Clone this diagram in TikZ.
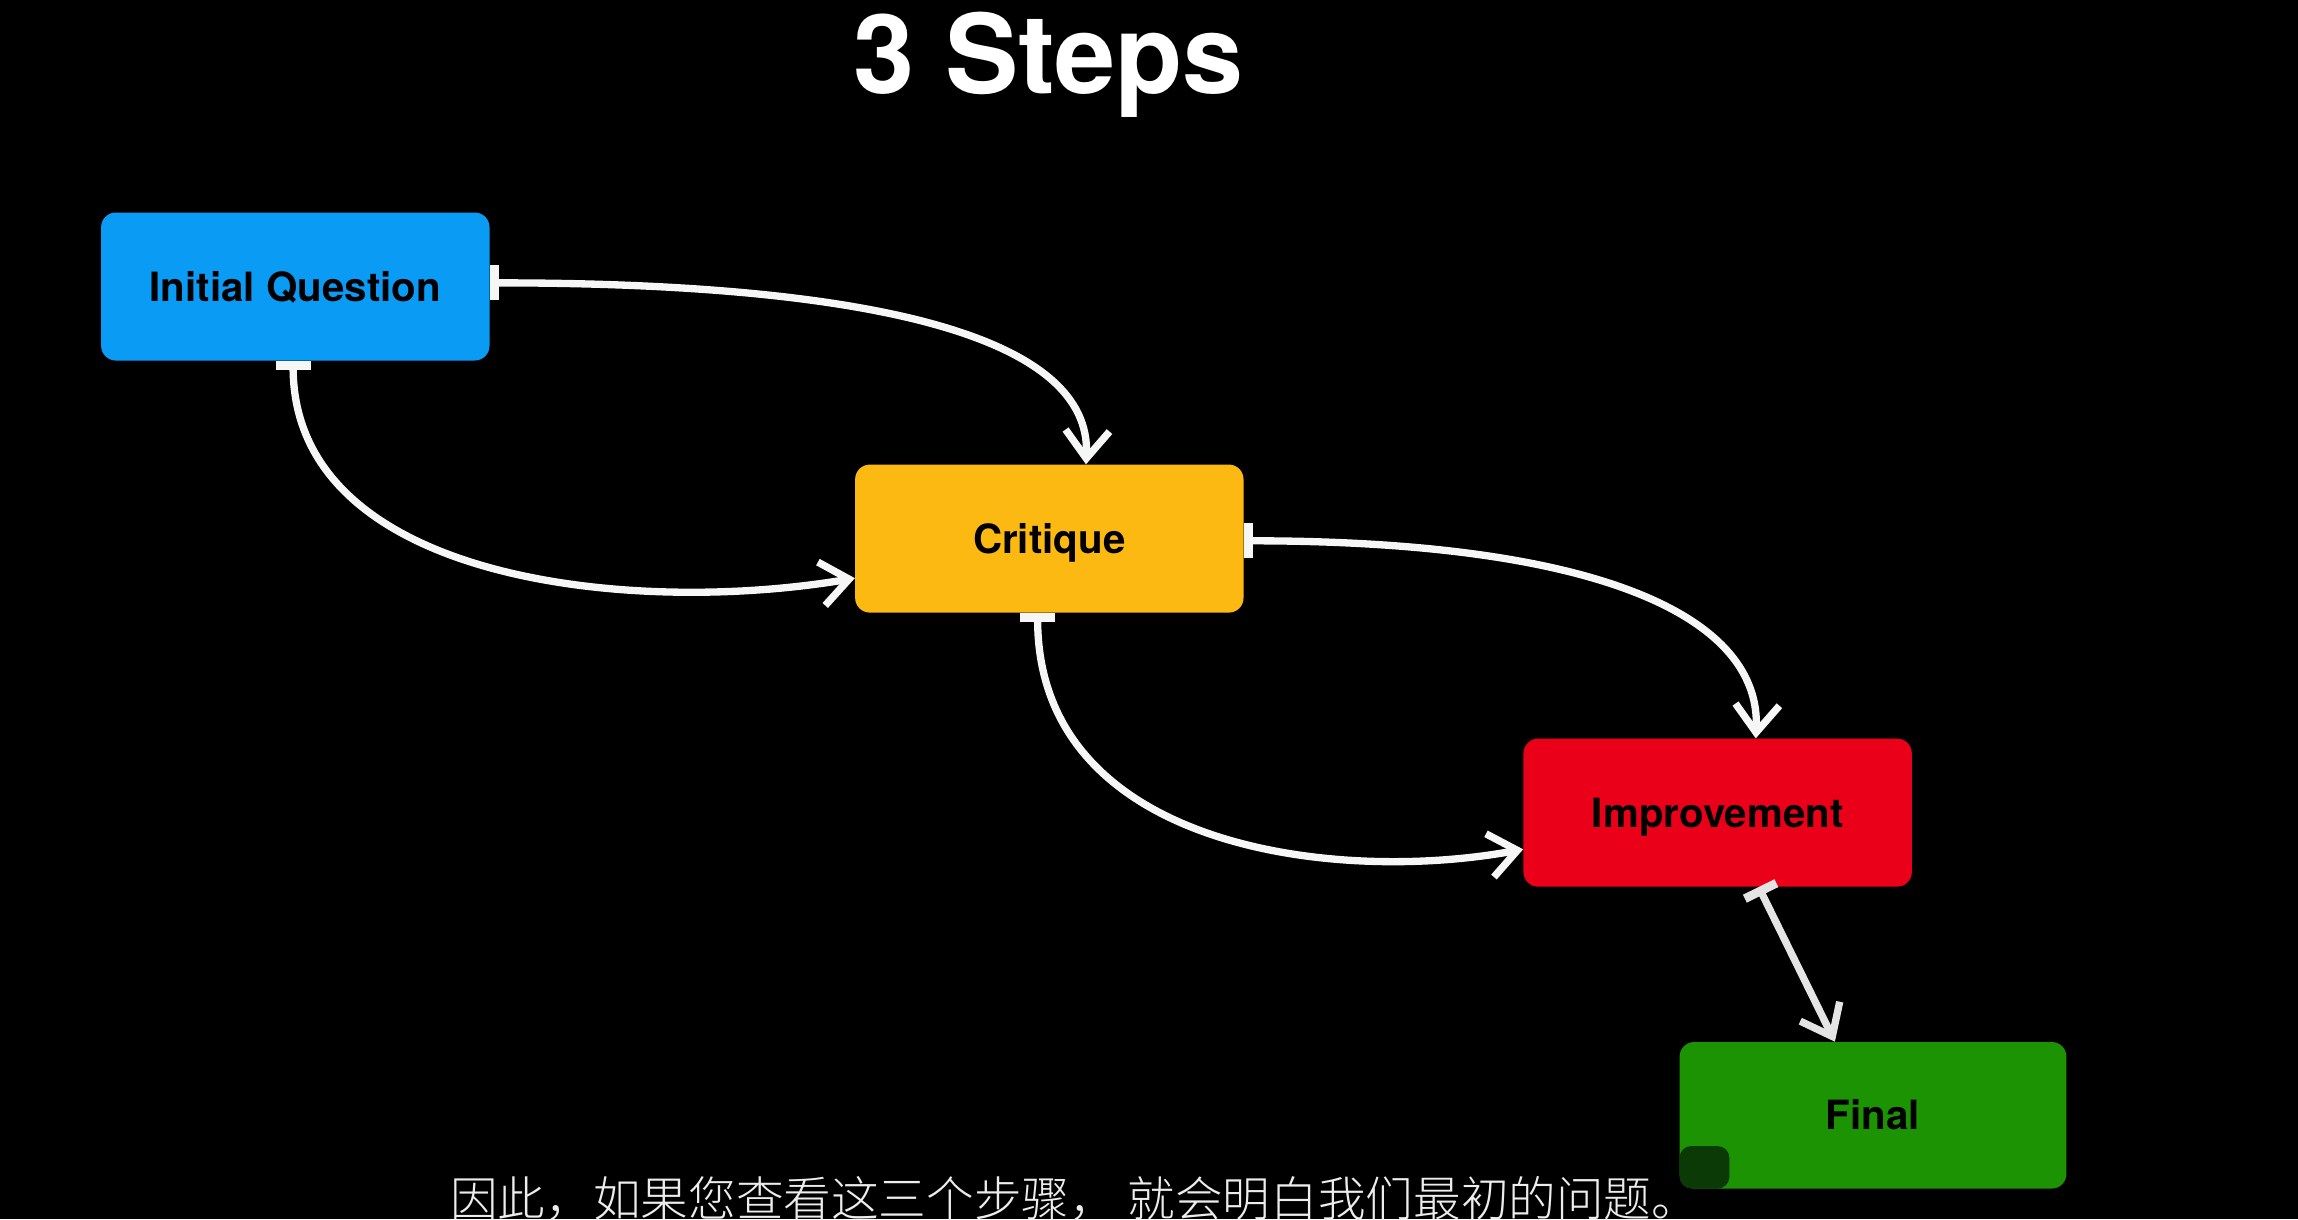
\documentclass[tikz,border=0pt]{standalone}
\usepackage{fontspec}
\setmainfont{TeX Gyre Heros}
\newfontfamily\cjkfont{Noto Sans CJK SC}[UprightFont={* Light}]
\usetikzlibrary{arrows.meta}
\definecolor{qblue}{HTML}{0A9BF5}
\definecolor{camber}{HTML}{FCB912}
\definecolor{ired}{HTML}{EA0019}
\definecolor{fgreen}{HTML}{1C9302}
\definecolor{patchgreen}{HTML}{0B3A07}
\definecolor{subgray}{HTML}{EDEDED}
\definecolor{linewhite}{HTML}{F6F6F6}
\definecolor{linegray}{HTML}{E4E4E4}
\begin{document}
\begin{tikzpicture}[x=1pt,y=-1pt,
  stepbox/.style={rounded corners=10pt, inner sep=0pt, minimum width=265pt,
    minimum height=101pt, text height=20pt, text depth=0pt,
    font=\fontsize{27.5}{30}\selectfont\bfseries, text=black},
  flow/.style={draw=linewhite, line width=5pt,
    {Rectangle[length=6pt,width=24pt]}-{Straight Barb[length=19pt,width=30pt]}}]
\fill[black] (0,0) rectangle (1568,832);
\useasboundingbox (0,0) rectangle (1568,832);

\node[anchor=base, text=white, inner sep=0pt, font=\fontsize{75}{80}\selectfont\bfseries] (title) at (715.5,64) {3 Steps};

\node[stepbox, fill=qblue] (iq) at (201.5,195.5) {Initial Question};
\node[stepbox, fill=camber] (cr) at (716,367.5) {Critique};
\node[stepbox, fill=ired] (im) at (1172,554.5) {Improvement};
\node[stepbox, fill=fgreen, minimum width=264pt, minimum height=100pt] (fi) at (1278,761) {Final};
\fill[patchgreen, rounded corners=8pt] (1146,782) rectangle (1180,811);

\draw[flow] ([yshift=2.5pt]iq.east) .. controls +(266,0) and +(4,-86) .. ([xshift=25pt]cr.north);
\draw[flow] ([xshift=-1.5pt]iq.south) .. controls +(0,150) and +(-154,26) .. ([yshift=-27pt]cr.west);
\draw[flow] ([yshift=-1.5pt]cr.east) .. controls +(250,0) and +(4,-80) .. ([xshift=26pt]im.north);
\draw[flow] ([xshift=-8pt]cr.south) .. controls +(0,160) and +(-130,24) .. ([yshift=-25pt]im.west);
\draw[flow, draw=linegray] ([xshift=28pt]im.south) -- ([xshift=-26pt]fi.north);

\node[anchor=base west, inner sep=0pt, text=subgray, font=\cjkfont\fontsize{32.5}{36}\selectfont] (sub) at (307,830) {因此，如果您查看这三个步骤， 就会明白我们最初的问题。};
\end{tikzpicture}
\end{document}
